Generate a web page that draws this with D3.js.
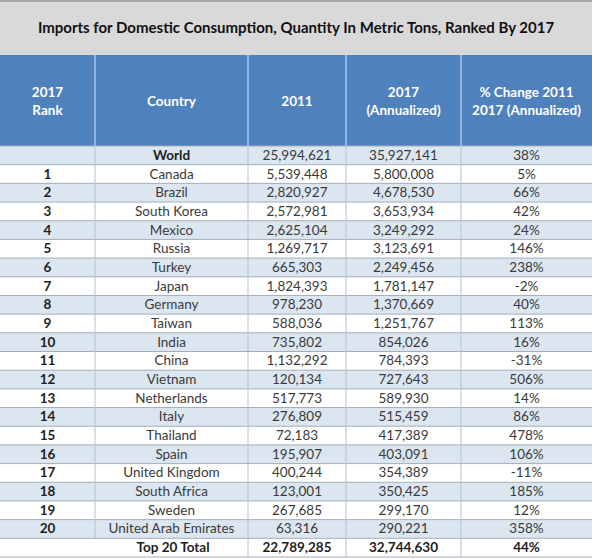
<!DOCTYPE html>
<html><head><meta charset="utf-8">
<script src="https://cdn.jsdelivr.net/npm/d3@7"></script>
<style>html,body{margin:0;padding:0;background:#fff;}svg{display:block;}</style>
</head><body>
<script>
const titleText = "Imports for Domestic Consumption, Quantity In Metric Tons, Ranked By 2017";
const headers = [["2017","Rank"],["Country"],["2011"],["2017","(Annualized)"],["% Change 2011","2017 (Annualized)"]];
const ranks = ["", "1","2","3","4","5","6","7","8","9","10","11","12","13","14","15","16","17","18","19","20"];
const countries = ["World","Canada","Brazil","South Korea","Mexico","Russia","Turkey","Japan","Germany","Taiwan","India","China","Vietnam","Netherlands","Italy","Thailand","Spain","United Kingdom","South Africa","Sweden","United Arab Emirates"];
const values2011 = [25994621,5539448,2820927,2572981,2625104,1269717,665303,1824393,978230,588036,735802,1132292,120134,517773,276809,72183,195907,400244,123001,267685,63316];
const values2017 = [35927141,5800008,4678530,3653934,3249292,3123691,2249456,1781147,1370669,1251767,854026,784393,727643,589930,515459,417389,403091,354389,350425,299170,290221];
const pctChange = [38,5,66,42,24,146,238,-2,40,113,16,-31,506,14,86,478,106,-11,185,12,358];
const totalLabel = "Top 20 Total";
const total2011 = 22789285, total2017 = 32744630, totalPct = 44;

const W = 592, H = 559;
const font = "Lato, 'Open Sans', sans-serif";
const svg = d3.select("body").append("svg").attr("width", W).attr("height", H);

const colEdges = [0, 95, 248, 346, 461, 592];
const nRows = countries.length + 1;
const y = d3.scaleBand().domain(d3.range(nRows)).range([146, 557]);
const colCenter = i => (colEdges[i] + colEdges[i+1]) / 2;
const fmt = d3.format(",");

// title band
svg.append("rect").attr("x",0).attr("y",0).attr("width",W).attr("height",55).attr("fill","#d9d9d9");
svg.append("rect").attr("x",0).attr("y",0).attr("width",W).attr("height",2).attr("fill","#a6a6a6");
svg.append("text").attr("x", W/2).attr("y", 33).attr("text-anchor","middle")
  .attr("font-family", font).attr("font-weight","bold").attr("font-size", 15).attr("fill","#111")
  .text(titleText);

// header
svg.append("rect").attr("x",0).attr("y",55).attr("width",W).attr("height",91).attr("fill","#4f81bd");
headers.forEach((h,i)=>{
  const t = svg.append("text").attr("text-anchor","middle").attr("font-family",font)
    .attr("font-weight","bold").attr("font-size",13.5).attr("fill","#fff");
  const cy = 101;
  h.forEach((line,j)=>{
    t.append("tspan").attr("x", colCenter(i)).attr("y", cy + (j - (h.length-1)/2)*18 + 5).text(line);
  });
});
colEdges.slice(1,5).forEach(x=>{
  svg.append("line").attr("x1",x).attr("x2",x).attr("y1",55).attr("y2",146).attr("stroke","#a9c4e8").attr("stroke-width",1.5);
});

// rows
const rows = countries.map((c,i)=>({rank:ranks[i], country:c, v11:fmt(values2011[i]), v17:fmt(values2017[i]), pct:pctChange[i]+"%", world:i===0, total:false}));
rows.push({rank:"", country:totalLabel, v11:fmt(total2011), v17:fmt(total2017), pct:totalPct+"%", world:false, total:true});

const g = svg.append("g");
rows.forEach((r,i)=>{
  const y0 = y(i), bh = y.bandwidth();
  g.append("rect").attr("x",0).attr("y",y0).attr("width",W).attr("height",bh).attr("fill", i%2===0 && !r.total ? "#dce6f1" : "#ffffff");
  const cells = r.total ? [null, r.country, r.v11, r.v17, r.pct] : [r.rank, r.country, r.v11, r.v17, r.pct];
  cells.forEach((txt,ci)=>{
    if (txt===null) return;
    let cx = colCenter(ci);
    if (r.total && ci===1) cx = 173;
    const bold = ci===0 || r.total || (r.world && ci===1);
    g.append("text").attr("x",cx).attr("y",y0+bh/2+4.5).attr("text-anchor","middle")
      .attr("font-family",font).attr("font-size",13.5)
      .attr("font-weight", bold ? "bold" : "normal")
      .attr("fill", bold ? "#1e1e1e" : "#3a3a3a").text(txt);
  });
});
// grid lines
d3.range(nRows+1).forEach(i=>{
  const yy = i<nRows ? y(i) : 557;
  svg.append("line").attr("x1",0).attr("x2",W).attr("y1",yy).attr("y2",yy).attr("stroke","#a5adb8").attr("stroke-width",1);
});
colEdges.slice(1,5).forEach((x,k)=>{
  svg.append("line").attr("x1",x).attr("x2",x).attr("y1",146).attr("y2", k===0 ? y(nRows-1) : 557).attr("stroke","#b3c2d6").attr("stroke-width",1);
});
</script>
</body></html>
